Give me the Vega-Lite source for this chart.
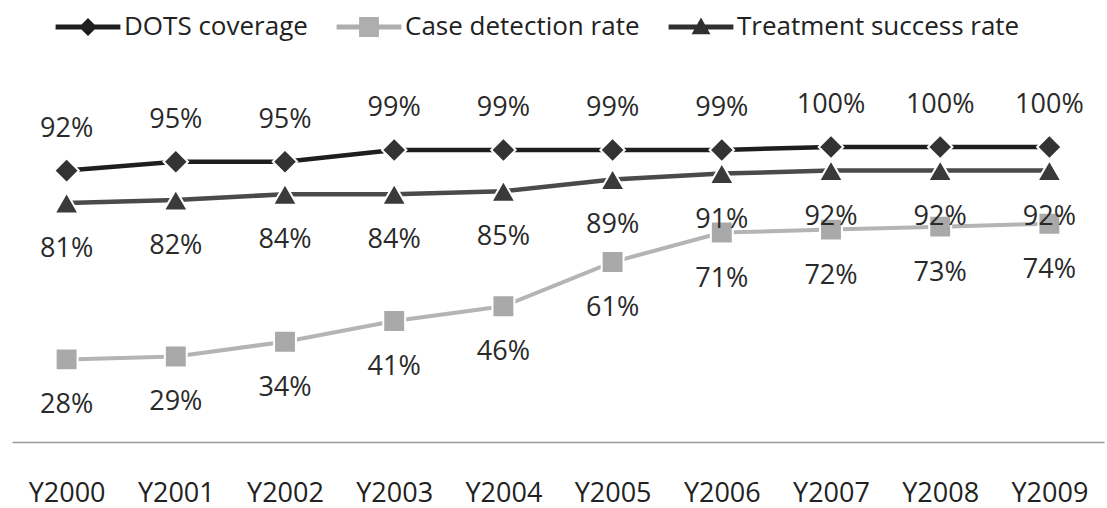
{
  "$schema": "https://vega.github.io/schema/vega-lite/v6.json",
  "width": 1092,
  "height": 354,
  "autosize": "none",
  "padding": {"left": 12, "top": 88, "right": 3, "bottom": 66},
  "background": "white",
  "config": {
    "view": {"stroke": null},
    "font": "Open Sans",
    "legend": {
      "padding": 0,
      "labelOffset": 23,
      "columnPadding": 28,
      "labelLimit": 0,
      "labelColor": "#222222",
      "symbolStrokeWidth": 0
    }
  },
  "data": {
    "values": [
      {"year": "Y2000", "series": "DOTS coverage", "value": 0.92},
      {"year": "Y2001", "series": "DOTS coverage", "value": 0.95},
      {"year": "Y2002", "series": "DOTS coverage", "value": 0.95},
      {"year": "Y2003", "series": "DOTS coverage", "value": 0.99},
      {"year": "Y2004", "series": "DOTS coverage", "value": 0.99},
      {"year": "Y2005", "series": "DOTS coverage", "value": 0.99},
      {"year": "Y2006", "series": "DOTS coverage", "value": 0.99},
      {"year": "Y2007", "series": "DOTS coverage", "value": 1.0},
      {"year": "Y2008", "series": "DOTS coverage", "value": 1.0},
      {"year": "Y2009", "series": "DOTS coverage", "value": 1.0},
      {"year": "Y2000", "series": "Case detection rate", "value": 0.28},
      {"year": "Y2001", "series": "Case detection rate", "value": 0.29},
      {"year": "Y2002", "series": "Case detection rate", "value": 0.34},
      {"year": "Y2003", "series": "Case detection rate", "value": 0.41},
      {"year": "Y2004", "series": "Case detection rate", "value": 0.46},
      {"year": "Y2005", "series": "Case detection rate", "value": 0.61},
      {"year": "Y2006", "series": "Case detection rate", "value": 0.71},
      {"year": "Y2007", "series": "Case detection rate", "value": 0.72},
      {"year": "Y2008", "series": "Case detection rate", "value": 0.73},
      {"year": "Y2009", "series": "Case detection rate", "value": 0.74},
      {"year": "Y2000", "series": "Treatment success rate", "value": 0.81},
      {"year": "Y2001", "series": "Treatment success rate", "value": 0.82},
      {"year": "Y2002", "series": "Treatment success rate", "value": 0.84},
      {"year": "Y2003", "series": "Treatment success rate", "value": 0.84},
      {"year": "Y2004", "series": "Treatment success rate", "value": 0.85},
      {"year": "Y2005", "series": "Treatment success rate", "value": 0.89},
      {"year": "Y2006", "series": "Treatment success rate", "value": 0.91},
      {"year": "Y2007", "series": "Treatment success rate", "value": 0.92},
      {"year": "Y2008", "series": "Treatment success rate", "value": 0.92},
      {"year": "Y2009", "series": "Treatment success rate", "value": 0.92}
    ]
  },
  "encoding": {
    "x": {
      "field": "year",
      "type": "ordinal",
      "scale": {"type": "point", "padding": 0.5},
      "axis": {
        "title": null,
        "domainColor": "#9a9a9a",
        "domainWidth": 1.5,
        "ticks": false,
        "grid": false,
        "labelAngle": 0,
        "labelFontSize": 27,
        "labelColor": "#222222",
        "labelPadding": 38
      }
    },
    "y": {
      "field": "value",
      "type": "quantitative",
      "scale": {"domain": [0, 1.2]},
      "axis": null
    }
  },
  "layer": [
    {
      "transform": [{"filter": "datum.series === 'Case detection rate'"}],
      "mark": {"type": "line", "strokeWidth": 4, "color": "#b4b4b4"},
      "encoding": {}
    },
    {
      "transform": [{"filter": "datum.series === 'Treatment success rate'"}],
      "mark": {"type": "line", "strokeWidth": 4.5, "color": "#4a4a4a"},
      "encoding": {}
    },
    {
      "transform": [{"filter": "datum.series === 'DOTS coverage'"}],
      "mark": {"type": "line", "strokeWidth": 4.5, "color": "#1e1e1e"},
      "encoding": {}
    },
    {
      "transform": [{"filter": "datum.series === 'DOTS coverage'"}],
      "mark": {"type": "point", "shape": "diamond", "size": 600, "filled": true, "opacity": 1, "fill": "#333333", "stroke": "white", "strokeWidth": 2}
    },
    {
      "transform": [{"filter": "datum.series === 'Case detection rate'"}],
      "mark": {"type": "point", "shape": "square", "size": 480, "filled": true, "opacity": 1, "fill": "#a9a9a9", "stroke": "white", "strokeWidth": 2}
    },
    {
      "transform": [{"filter": "datum.series === 'Treatment success rate'"}],
      "mark": {"type": "point", "shape": "triangle-up", "size": 580, "filled": true, "opacity": 1, "fill": "#3a3a3a", "stroke": "white", "strokeWidth": 2}
    },
    {
      "transform": [{"filter": "datum.series === 'DOTS coverage'"}],
      "mark": {"type": "text", "dy": -42, "baseline": "middle", "fontSize": 27, "color": "#2a2a2a"},
      "encoding": {"text": {"field": "value", "type": "quantitative", "format": ".0%"}}
    },
    {
      "transform": [{"filter": "datum.series !== 'DOTS coverage'"}],
      "mark": {"type": "text", "dy": 46, "baseline": "middle", "fontSize": 27, "color": "#2a2a2a"},
      "encoding": {"text": {"field": "value", "type": "quantitative", "format": ".0%"}}
    },
    {
      "mark": {"type": "point", "filled": true, "opacity": 0},
      "encoding": {
        "color": {
          "field": "series",
          "type": "nominal",
          "scale": {
            "domain": ["DOTS coverage", "Case detection rate", "Treatment success rate"],
            "range": ["#1e1e1e", "#aeaeae", "#303030"]
          },
          "legend": {
            "title": null,
            "orient": "none",
            "direction": "horizontal",
            "legendX": 63,
            "legendY": -74,
            "labelFontSize": 26,
            "symbolSize": 324,
            "symbolOpacity": 1
          }
        },
        "shape": {
          "field": "series",
          "type": "nominal",
          "scale": {
            "domain": ["DOTS coverage", "Case detection rate", "Treatment success rate"],
            "range": [
              "M-3.6,-0.27H3.6V0.27H-3.6Z M0,-1L1,0L0,1L-1,0Z",
              "M-3.6,-0.27H3.6V0.27H-3.6Z M-1.1,-1.1H1.1V1.1H-1.1Z",
              "M-3.6,-0.27H3.6V0.27H-3.6Z M0,-1.05L1.05,0.8L-1.05,0.8Z"
            ]
          },
          "legend": {
            "title": null,
            "orient": "none",
            "direction": "horizontal",
            "legendX": 63,
            "legendY": -74,
            "labelFontSize": 26,
            "symbolSize": 324,
            "symbolOpacity": 1
          }
        }
      }
    }
  ]
}
